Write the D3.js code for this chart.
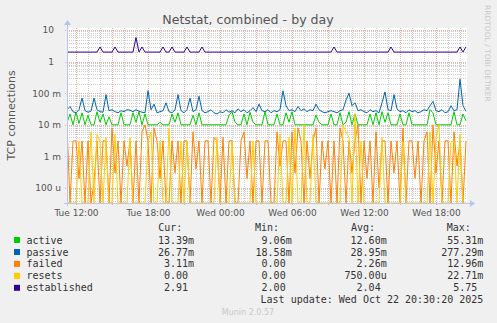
<!DOCTYPE html>
<html>
<head>
<meta charset="utf-8">
<script src="https://cdn.jsdelivr.net/npm/d3@7"></script>
<style>
html, body { margin: 0; padding: 0; background: #f0f0f0; }
svg { display: block; font-family: "DejaVu Sans", sans-serif; }
.mono { font-family: "DejaVu Sans Mono", monospace; font-size: 10px; fill: #333; }
</style>
</head>
<body>
<svg id="chart" width="497" height="323"></svg>
<script>
// samples every 15 minutes, Tue 11:15 .. Wed 20:30 (values in milli-connections)
const seriesNames = ["active", "passive", "failed", "resets", "established"];
const seriesColors = ["#00cc00", "#0066b3", "#ff8000", "#ffcc00", "#330099"];

const active = [12,22,10,25,11,24,10,20,10,10,26,12,22,10,18,10,10,10,24,10,
  10,10,24,12,26,10,22,10,10,10,10,12,10,10,10,22,12,24,10,10,
  10,10,20,10,24,10,10,10,10,10,10,10,10,10,20,26,12,10,10,22,
  10,25,12,10,10,10,26,10,10,10,22,10,10,24,12,26,10,10,10,10,
  10,10,10,20,12,10,10,10,22,10,10,24,10,12,26,10,22,10,10,10,
  10,22,10,24,10,26,12,24,10,10,10,22,10,10,24,10,10,10,10,10,
  10,30,24,10,10,10,10,10,10,26,10,10,22,13.39];

const passive = [30,38,26,24,30,70,28,25,27,70,30,26,25,90,28,30,26,24,28,26,
  30,29,26,30,27,25,24,120,30,45,24,26,28,50,26,24,30,90,28,24,
  30,70,26,30,80,28,24,26,30,24,22,26,24,30,25,28,24,32,26,30,
  24,28,35,26,45,28,26,30,24,28,26,30,120,40,28,30,26,38,28,32,
  26,30,28,45,30,26,24,26,28,26,24,28,30,60,100,40,50,28,30,26,
  24,30,26,28,24,50,110,30,28,90,32,26,28,24,30,26,28,24,26,30,
  28,40,55,28,26,30,24,26,40,28,30,277,40,26.77];

const failed = [10,0,3.1,3.1,0.2,3.1,0,3.1,0,0.15,3.1,0,3.1,3.1,0,8,0.3,3.1,0,3.1,
  0.5,3.1,0,3.1,0,6,10,3.1,0,8,3.1,0.2,3.1,0,0,3.1,0.3,3.1,0,3.1,
  3.1,0,6,0.4,3.1,0,3.1,3.1,0,4,3.1,0,4,0,3.1,3.1,0,0,3.1,6,
  0.2,3.1,0,3.1,3.1,0,3.1,3.1,0,0,6,0.5,3.1,3.1,0,6,0.3,8,3.1,0,
  3.1,0.2,3.1,8,0,3.1,0.4,3.1,0,3.1,0,8,3.1,0,3.1,0.3,3.1,10,0,3.1,
  0.2,3.1,0,6,0.1,3.1,3.1,0,3.1,0.3,3.1,0,8,0,3.1,3.1,0.2,3.1,0,3.1,
  6,0,10,0.3,3.1,0,3.1,3.1,0,6,0.5,3.1,0,3.11];

const resets = [0,0,0,0,3,0,0,0,6,0,5,3,0,4,0,0,5,0,0,0,
  0,4,0,0,0,0,0,3,6,0,0,3,0,0,8,0,0,0,3,0,
  3,0,0,0,0,0,0,0,0,0,4,0,0,0,0,3,0,0,0,0,
  0,0,3,0,0,0,0,0,0,0,0,5,0,0,4,0,8,0,0,10,
  0,0,5,0,0,0,0,0,0,0,0,0,10,6,4,0,22.7,0,3,0,
  0,0,0,0,0,4,0,0,0,0,0,0,3,0,0,0,0,0,0,0,
  0,6,0,4,10,0,0,0,3,3,0,5,0,0];

const established = [2000,2000,2000,2000,2000,2000,2000,2000,2000,2000,2000,2900,2000,2000,2000,2000,2900,2000,2000,2000,
  2000,2000,2000,5750,2000,2900,2000,2000,2000,2000,2000,2000,2900,2000,2000,2900,2000,2000,2000,2000,
  2900,2000,2000,2000,2000,2900,2000,2000,2000,2000,2000,2000,2000,2000,2000,2000,2000,2000,2000,2000,
  2000,2000,2000,2000,2000,2000,2000,2000,2000,2000,2000,2000,2000,2000,2000,2000,2000,2000,2000,2000,
  2000,2000,2000,2000,2000,2000,2000,2000,2000,2900,2000,2000,2000,2000,2000,2000,2000,2000,2000,2000,
  2000,2000,2000,2000,2000,2000,2000,2000,2900,2000,2000,2000,2000,2000,2000,2000,2000,2000,2000,2000,
  2000,2000,2000,2000,2000,2000,2000,2000,2000,2000,2000,2900,2000,2910];

const yTickValues = [10, 1, 0.1, 0.01, 0.001, 0.0001];
const yTickLabels = ["10", "1", "100 m", "10 m", "1 m", "100 u"];

const curVals = ["13.39m", "26.77m", "3.11m", "0.00", "2.91"];
const minVals = ["9.06m", "18.58m", "0.00", "0.00", "2.00"];
const avgVals = ["12.60m", "28.95m", "2.26m", "750.00u", "2.04"];
const maxVals = ["55.31m", "277.29m", "12.96m", "22.71m", "5.75"];

const allSeries = [active, passive, failed, resets, established];

const svg = d3.select("#chart");
const pL = 67, pR = 467, pT = 28, pB = 203;

const tStart = new Date(2025, 9, 21, 11, 15);
const tEnd = new Date(2025, 9, 22, 20, 35);
const times = d3.timeMinute.every(15).range(tStart, new Date(2025, 9, 22, 20, 31));

const x = d3.scaleTime().domain([tStart, tEnd]).range([pL, pR]);
const y = d3.scaleLog().domain([3.35e-5, 11.57]).range([pB, pT]).clamp(true);
const yPos = v => v > 0 ? y(v) : pB;

svg.append("rect").attr("width", 497).attr("height", 323).attr("fill", "#f0f0f0");
svg.append("rect").attr("x", pL).attr("y", pT)
  .attr("width", pR - pL).attr("height", pB - pT).attr("fill", "#ffffff");

// horizontal grid
const grid = svg.append("g").attr("shape-rendering", "crispEdges");
const minorY = [];
for (let k = -5; k <= 1; k++) {
  for (let m = 2; m <= 9; m++) {
    const v = m * Math.pow(10, k);
    if (v > y.domain()[0] && v < y.domain()[1]) minorY.push(v);
  }
}
grid.selectAll(".hmin").data(minorY).enter().append("line")
  .attr("x1", pL).attr("x2", pR)
  .attr("y1", d => Math.round(y(d)) + 0.5).attr("y2", d => Math.round(y(d)) + 0.5)
  .attr("stroke", "#cccccc").attr("stroke-dasharray", "1,1");

// vertical grid: hours minor, 3 hours major
const hours = d3.timeHour.every(1).range(tStart, tEnd);
grid.selectAll(".vmin").data(hours.filter(h => h.getHours() % 3 !== 0)).enter().append("line")
  .attr("y1", pT).attr("y2", pB)
  .attr("x1", d => Math.round(x(d)) + 0.5).attr("x2", d => Math.round(x(d)) + 0.5)
  .attr("stroke", "#cccccc").attr("stroke-dasharray", "1,1");
grid.selectAll(".vmaj").data(hours.filter(h => h.getHours() % 3 === 0)).enter().append("line")
  .attr("y1", pT).attr("y2", pB + 3)
  .attr("x1", d => Math.round(x(d)) + 0.5).attr("x2", d => Math.round(x(d)) + 0.5)
  .attr("stroke", "#eaaaaa").attr("stroke-dasharray", "1,1");
grid.selectAll(".hmaj").data(yTickValues).enter().append("line")
  .attr("x1", pL - 2).attr("x2", pR)
  .attr("y1", d => Math.round(y(d)) + 0.5).attr("y2", d => Math.round(y(d)) + 0.5)
  .attr("stroke", "#eaaaaa").attr("stroke-dasharray", "1,1");

// data lines
svg.append("clipPath").attr("id", "clip").append("rect")
  .attr("x", pL).attr("y", pT - 1).attr("width", pR - pL).attr("height", pB - pT + 1);
const lineGen = d3.line().x((d, i) => x(times[i])).y(d => yPos(d / 1000));
const plot = svg.append("g").attr("clip-path", "url(#clip)");
allSeries.forEach((s, i) => {
  plot.append("path").datum(s)
    .attr("d", lineGen)
    .attr("fill", "none")
    .attr("stroke", seriesColors[i])
    .attr("stroke-width", 1);
});

// axis lines with arrows
const axisColor = "#b8c4f0";
svg.append("line").attr("x1", pL - 3).attr("x2", pR + 3).attr("y1", pB + 0.5).attr("y2", pB + 0.5)
  .attr("stroke", axisColor);
svg.append("path").attr("d", `M${pR + 3},${pB - 3}L${pR + 8},${pB + 0.5}L${pR + 3},${pB + 4}Z`)
  .attr("fill", axisColor);
svg.append("line").attr("x1", pL + 0.5).attr("x2", pL + 0.5).attr("y1", pB + 3).attr("y2", pT - 3)
  .attr("stroke", axisColor);
svg.append("path").attr("d", `M${pL - 3},${pT - 3}L${pL + 0.5},${pT - 8}L${pL + 4},${pT - 3}Z`)
  .attr("fill", axisColor);

// y axis labels
const yAxis = svg.append("g").attr("transform", `translate(${pL},0)`)
  .call(d3.axisLeft(y).tickValues(yTickValues).tickFormat((d, i) => yTickLabels[i]).tickSize(0));
yAxis.select(".domain").remove();
yAxis.selectAll("text")
  .attr("font-family", "DejaVu Sans").attr("font-size", 9).attr("fill", "#555")
  .attr("x", function () { return this.textContent.includes(" ") ? -6 : -13; });

// x axis labels
const xTicks = hours.filter(h => h.getHours() % 6 === 0);
const xAxis = svg.append("g").attr("transform", `translate(0,${pB})`)
  .call(d3.axisBottom(x).tickValues(xTicks).tickFormat(d3.timeFormat("%a %H:%M")).tickSize(0).tickPadding(7));
xAxis.select(".domain").remove();
xAxis.selectAll("text").attr("font-family", "DejaVu Sans").attr("font-size", 9).attr("fill", "#555");

// titles
svg.append("text").attr("x", 248).attr("y", 24).attr("text-anchor", "middle")
  .attr("font-size", 12.6).attr("fill", "#555").text("Netstat, combined - by day");
svg.append("text").attr("transform", "translate(15,115.5) rotate(-90)").attr("text-anchor", "middle")
  .attr("font-size", 11).attr("fill", "#555").text("TCP connections");
svg.append("text").attr("transform", "translate(485,5) rotate(90)")
  .attr("font-size", 7.5).attr("fill", "#c8c8c8").text("RRDTOOL / TOBI OETIKER");

// legend
const charW = 6.02;
const legend = svg.append("g");
const headers = [["Cur:", 158.3], ["Min:", 255], ["Avg:", 351], ["Max:", 446.7]];
headers.forEach(h => legend.append("text").attr("class", "mono").attr("x", h[1]).attr("y", 231).text(h[0]));
const cols = [[curVals, 194], [minVals, 291.7], [avgVals, 386.7], [maxVals, 483.3]];
const rowY = [243.5, 255.5, 267.4, 279.4, 291.3];
seriesNames.forEach((name, i) => {
  legend.append("rect").attr("x", 14).attr("y", rowY[i] - 6.5).attr("width", 6).attr("height", 6)
    .attr("fill", seriesColors[i]);
  legend.append("text").attr("class", "mono").attr("x", 26.5).attr("y", rowY[i]).text(name);
  cols.forEach(c => {
    const v = c[0][i];
    const hasSuffix = /[a-z]$/.test(v);
    legend.append("text").attr("class", "mono").attr("text-anchor", "end")
      .attr("x", hasSuffix ? c[1] : c[1] - charW).attr("y", rowY[i]).text(v);
  });
});
legend.append("text").attr("class", "mono").attr("text-anchor", "end").attr("x", 483.3).attr("y", 302.5)
  .text("Last update: Wed Oct 22 20:30:20 2025");
svg.append("text").attr("x", 248).attr("y", 315).attr("text-anchor", "middle")
  .attr("font-size", 8).attr("fill", "#c8c8c8").text("Munin 2.0.57");
</script>
</body>
</html>
